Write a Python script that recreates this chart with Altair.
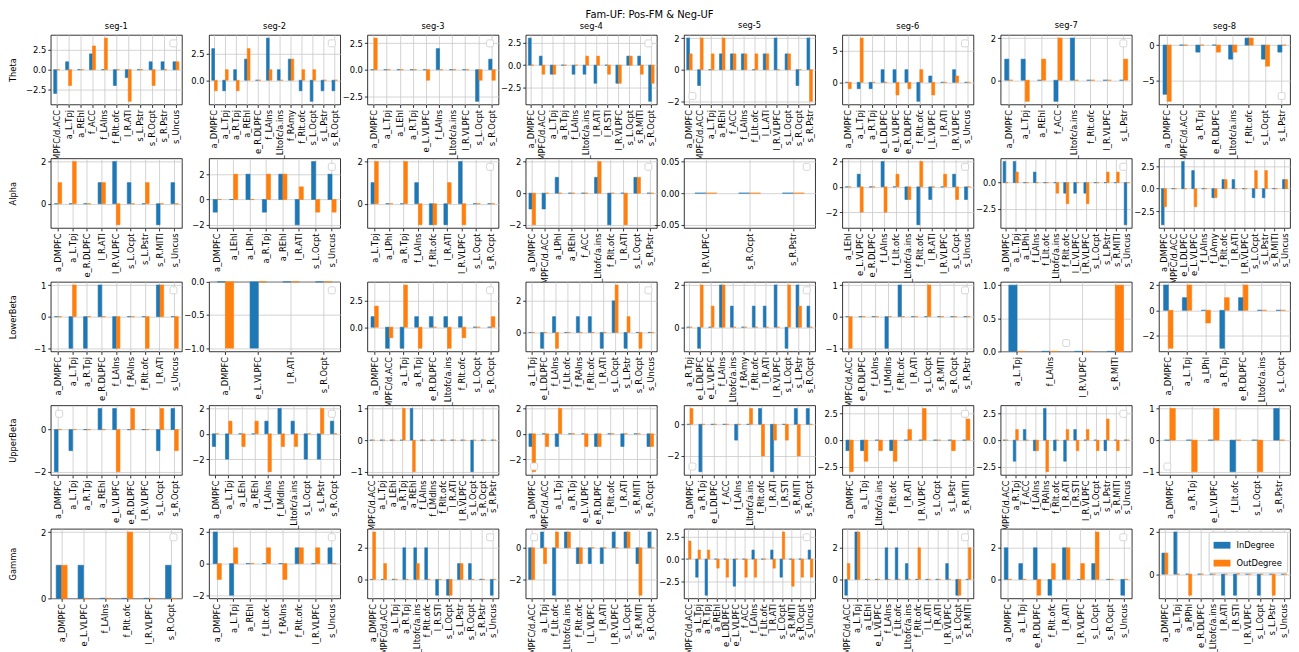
import altair as alt
import pandas as pd

# ---------------- data ----------------
series_names = ["InDegree", "OutDegree"]
bands = ["Theta", "Alpha", "LowerBeta", "UpperBeta", "Gamma"]

# Theta
t1_cats = ["e_DMPFC/d.ACC", "a_L.Tpj", "a_REhl", "f_ACC", "f_LAIns", "f_Rlt.ofc", "l_R.ATl", "s_L.Pstr", "s_R.Ocpt", "s_R.Pstr", "s_Uncus"]
t1_in = [-3, 1, 0, 2, 0, -2, -1, 0, 1, 1, 1]
t1_out = [0, -2, 0, 3, 4, 0, -4, 0, -2, 0, 1]
t2_cats = ["a_DMPFC", "a_L.Tpj", "a_R.Tpj", "a_REhl", "e_R.DLPFC", "f_LAIns", "f_Lltofc/a.ins", "f_RAmy", "f_Rlt.ofc", "s_L.Ocpt", "s_L.Pstr", "s_R.Ocpt"]
t2_in = [3, -1, 1, 2, 0, 4, 1, 2, -1, -2, -1, -1]
t2_out = [-1, 1, -1, 3, 0, 1, 0, 2, 1, 1, 0, 0]
t3_cats = ["a_DMPFC", "a_L.Tpj", "a_LEhl", "a_R.Tpj", "e_L.VLPFC", "f_LAIns", "f_Lltofc/a.ins", "l_R.VLPFC", "s_L.Ocpt", "s_R.Ocpt"]
t3_in = [0, 0, 0, 0, 0, 2, 0, 0, -3, 1]
t3_out = [3, 0, 0, 0, -1, 0, 0, 0, -1, -1]
t4_cats = ["a_DMPFC", "e_DMPFC/d.ACC", "a_L.Tpj", "a_R.Tpj", "f_LAIns", "f_Lltofc/a.ins", "l_R.ATl", "l_R.STl", "l_R.VLPFC", "s_L.Ocpt", "s_R.MITl", "s_R.Ocpt"]
t4_in = [3, 1, -1, 0, -1, -1, -2, 0, -2, 1, 1, -4]
t4_out = [0, -1, -1, 0, 0, 1, 1, -1, -2, 1, -1, -2]
t5_cats = ["a_DMPFC", "e_DMPFC/d.ACC", "a_L.Tpj", "a_REhl", "f_ACC", "f_LAIns", "f_Llt.ofc", "l_L.ATl", "l_R.VLPFC", "s_L.Ocpt", "s_R.Ocpt", "s_R.Pstr"]
t5_in = [2, -1, 0, 1, 1, 1, 0, 1, 2, 1, -1, 2]
t5_out = [1, 2, 1, 2, 1, 1, 1, 1, 0, 1, 0, -2]
t6_cats = ["a_DMPFC", "a_L.Tpj", "a_R.Tpj", "e_L.DLPFC", "e_L.VLPFC", "e_R.DLPFC", "f_Rlt.ofc", "l_L.VLPFC", "l_R.ATl", "l_R.VLPFC", "s_Uncus"]
t6_in = [0, -1, -1, 2, 2, 2, -3, 1, 0, 2, 0]
t6_out = [-1, 7, 0, 0, -2, -1, 2, -2, 0, 1, 0]
t7_cats = ["a_DMPFC", "a_L.Tpj", "a_REhl", "f_ACC", "f_Lltofc/a.ins", "f_Rlt.ofc", "l_R.VLPFC", "s_L.Pstr"]
t7_in = [1, 1, 0, -1, 2, 0, 0, 0]
t7_out = [0, -1, 1, 2, 0, 0, 0, 1]
t8_cats = ["a_DMPFC", "e_DMPFC/d.ACC", "a_R.Tpj", "e_R.DLPFC", "f_Lltofc/a.ins", "f_Rlt.ofc", "s_L.Ocpt", "s_L.Pstr"]
t8_in = [-7, 0, -1, 0, -2, 1, -2, -1]
t8_out = [-8, 0, 0, -1, -1, 1, -3, 0]

# Alpha
a1_cats = ["a_DMPFC", "a_L.Tpj", "e_R.DLPFC", "l_R.ATl", "l_R.VLPFC", "s_L.Ocpt", "s_L.Pstr", "s_R.MITl", "s_Uncus"]
a1_in = [0, 0, 0, 1, 2, 1, 0, -1, 1]
a1_out = [1, 2, 0, 1, -1, 0, 1, 0, 0]
a2_cats = ["a_DMPFC", "a_LEhl", "a_LPhl", "a_R.Tpj", "a_REhl", "l_R.ATl", "s_L.Ocpt", "s_Uncus"]
a2_in = [-1, 0, 2, -1, 2, -2, 3, 2]
a2_out = [0, 2, 0, 2, 2, 1, -1, -1]
a3_cats = ["a_L.Tpj", "a_LPhl", "a_R.Tpj", "f_LAIns", "f_Rlt.ofc", "l_R.ATl", "l_R.VLPFC", "s_L.Ocpt", "s_R.Ocpt"]
a3_in = [1, 0, 0, 1, -1, -1, 2, 0, 0]
a3_out = [2, 0, 2, -1, -1, 1, -1, 0, 0]
a4_cats = ["a_DMPFC", "e_DMPFC/d.ACC", "a_LPhl", "a_REhl", "f_ACC", "f_Lltofc/a.ins", "f_Rlt.ofc", "l_R.ATl", "s_L.Ocpt", "s_R.Pstr"]
a4_in = [-1, -1, 1, 0, 0, 1, -2, 0, 1, 0]
a4_out = [-2, 0, 0, 0, 0, 2, 0, -2, 1, 0]
a5_cats = ["l_R.VLPFC", "s_R.Ocpt", "s_R.Pstr"]
a5_in = [0, 0, 0]
a5_out = [0, 0, 0]
a6_cats = ["a_LEhl", "e_L.VLPFC", "e_R.DLPFC", "f_LAIns", "f_Llt.ofc", "f_Lltofc/a.ins", "f_Rlt.ofc", "l_R.ATl", "l_R.VLPFC", "s_L.Ocpt", "s_Uncus"]
a6_in = [0, 1, 0, 2, 0, -1, -3, -1, 0, 1, -1]
a6_out = [0, -2, 0, -2, 1, -1, 2, 0, 1, -1, 0]
a7_cats = ["a_DMPFC", "a_L.Tpj", "a_LPhl", "f_LAIns", "f_Llt.ofc", "f_Lltofc/a.ins", "f_Rlt.ofc", "l_L.VLPFC", "l_R.VLPFC", "s_L.Ocpt", "s_L.Pstr", "s_R.MITl", "s_Uncus"]
a7_in = [2, 2, 0, 1, 0, 0, -1, -1, -1, 0, 0, 0, -4]
a7_out = [0, 1, 0, 0, 0, -1, -2, 0, -2, 0, 1, 1, 0]
a8_cats = ["a_DMPFC", "e_DMPFC/d.ACC", "e_L.DLPFC", "e_L.VLPFC", "f_LAIns", "f_LAmy", "f_Rlt.ofc", "l_R.ATl", "l_R.VLPFC", "s_L.Ocpt", "s_L.Pstr", "s_R.MITl", "s_Uncus"]
a8_in = [-4, 0, 3, 2, 0, -1, 1, 1, 0, -1, -1, 0, 1]
a8_out = [-2, 0, 0, -2, 0, -1, 1, 0, 0, 2, 2, 0, 1]

# LowerBeta
l1_cats = ["a_DMPFC", "a_L.Tpj", "a_R.Tpj", "e_R.DLPFC", "f_LAIns", "f_RAIns", "f_Rlt.ofc", "l_R.ATl", "s_Uncus"]
l1_in = [0, -1, -1, 1, -1, 0, 0, 1, 0]
l1_out = [0, 1, 0, 0, -1, 0, -1, 1, -1]
l2_cats = ["a_DMPFC", "e_L.VLPFC", "l_R.ATl", "s_R.Ocpt"]
l2_in = [0, -1, 0, 0]
l2_out = [-1, 0, 0, 0]
l3_cats = ["a_DMPFC", "e_DMPFC/d.ACC", "a_L.Tpj", "a_R.Tpj", "e_R.DLPFC", "f_Lltofc/a.ins", "f_Rlt.ofc", "s_L.Ocpt", "s_R.Ocpt"]
l3_in = [1, -2, -2, 1, 1, 1, 1, 0, 0]
l3_out = [2, -1, 4, -2, 0, -2, -1, 0, 1]
l4_cats = ["a_L.Tpj", "e_L.DLPFC", "f_LAIns", "f_Llt.ofc", "f_RAIns", "f_Rlt.ofc", "l_R.ATl", "s_L.Ocpt", "s_L.Pstr", "s_R.Ocpt", "s_Uncus"]
l4_in = [0, -1, 1, 0, 1, 1, -1, 2, -1, 0, 0]
l4_out = [0, 0, -1, 0, 0, 0, 0, 3, 1, -1, 0]
l5_cats = ["a_R.Tpj", "e_L.DLPFC", "e_L.VLPFC", "f_LAIns", "f_Lltofc/a.ins", "f_RAmy", "f_Rlt.ofc", "l_R.ATl", "l_R.VLPFC", "s_L.Ocpt", "s_L.Pstr", "s_R.Ocpt"]
l5_in = [0, -1, 0, 2, 1, 0, 1, 1, 2, -1, 2, 1]
l5_out = [0, 2, 1, 2, 0, 0, 0, 0, 0, 2, 1, 0]
l6_cats = ["e_DMPFC/d.ACC", "e_R.DLPFC", "f_LAIns", "f_LMdIns", "f_Rlt.ofc", "l_R.ATl", "s_L.Ocpt", "s_R.MITl", "s_R.Ocpt", "s_R.Pstr"]
l6_in = [0, 0, 0, -1, 1, 0, 0, 0, 0, 0]
l6_out = [-1, 0, 0, 0, 0, 0, 1, 0, 0, 0]
l7_cats = ["a_L.Tpj", "f_LAIns", "l_R.VLPFC", "s_R.MITl"]
l7_in = [1, 0, 0, 0]
l7_out = [0, 0, 0, 1]
l8_cats = ["a_DMPFC", "a_L.Tpj", "a_LPhl", "a_R.Tpj", "e_R.DLPFC", "f_Lltofc/a.ins", "s_L.Ocpt"]
l8_in = [2, 1, 0, -3, 1, 0, 0]
l8_out = [-3, 2, -1, 1, 2, 0, 0]

# UpperBeta
u1_cats = ["a_DMPFC", "a_L.Tpj", "a_R.Tpj", "a_REhl", "e_L.VLPFC", "e_R.DLPFC", "l_R.VLPFC", "s_L.Ocpt", "s_R.Ocpt"]
u1_in = [-2, -1, 0, 1, 1, 0, 0, -1, 1]
u1_out = [0, 0, 0, 0, -2, 1, 0, 1, -1]
u2_cats = ["a_DMPFC", "a_L.Tpj", "a_LEhl", "a_REhl", "f_LAIns", "f_LMdIns", "f_Lltofc/a.ins", "s_L.Ocpt", "s_L.Pstr", "s_R.Ocpt"]
u2_in = [-1, -2, 0, 0, 1, 2, 1, -2, -2, 1]
u2_out = [0, 1, -1, 1, -3, -1, -1, 0, 2, 0]
u3_cats = ["e_DMPFC/d.ACC", "a_L.Tpj", "a_LEhl", "a_R.Tpj", "a_REhl", "f_LAIns", "f_LMdIns", "f_Rlt.ofc", "l_R.ATl", "l_R.VLPFC", "s_L.Ocpt", "s_R.Ocpt", "s_R.Pstr"]
u3_in = [0, 0, 0, 0, 1, 0, 0, 0, 0, 0, -1, 0, 0]
u3_out = [0, 0, 0, 1, -1, 0, 0, 0, 0, 0, 0, 0, 0]
u4_cats = ["a_DMPFC", "e_DMPFC/d.ACC", "a_L.Tpj", "a_R.Tpj", "e_L.VLPFC", "e_R.DLPFC", "f_Rlt.ofc", "l_R.ATl", "s_R.MITl", "s_R.Ocpt"]
u4_in = [-1, 0, -1, 0, 0, -1, 0, -1, 0, -1]
u4_out = [-3, -1, 2, 0, -1, -1, 0, 0, 0, -1]
u5_cats = ["a_DMPFC", "a_R.Tpj", "e_L.DLPFC", "f_ACC", "f_LAIns", "f_Lltofc/a.ins", "f_Rlt.ofc", "l_R.ATl", "l_R.STl", "s_R.MITl", "s_R.Ocpt"]
u5_in = [0, -3, 0, 0, -1, 0, 1, -3, 0, 1, 1]
u5_out = [1, 0, 0, 0, 0, 1, -2, -1, -1, -2, 0]
u6_cats = ["a_DMPFC", "a_L.Tpj", "f_Lltofc/a.ins", "f_Rlt.ofc", "l_R.ATl", "l_R.VLPFC", "s_L.Ocpt", "s_L.Pstr", "s_R.MITl"]
u6_in = [-1, -1, 0, -1, 0, 0, 0, 0, 0]
u6_out = [-3, -2, -1, -2, 1, 3, 0, -1, 2]
u7_cats = ["e_DMPFC/d.ACC", "a_R.Tpj", "f_ACC", "f_LAIns", "f_RAIns", "f_Rlt.ofc", "l_R.ATl", "l_R.STl", "l_R.VLPFC", "s_L.Ocpt", "s_L.Pstr", "s_R.MITl", "s_Uncus"]
u7_in = [0, -2, 1, -1, 3, -1, -2, 1, 0, 0, -1, 0, 0]
u7_out = [0, 1, 0, -1, -3, 0, 1, -1, 1, -1, 2, -1, 0]
u8_cats = ["a_DMPFC", "a_R.Tpj", "e_L.VLPFC", "f_Llt.ofc", "s_L.Ocpt", "s_R.Pstr"]
u8_in = [0, 0, 0, -1, 0, 1]
u8_out = [1, -1, 1, 0, -1, 0]

# Gamma
g1_cats = ["a_DMPFC", "e_L.VLPFC", "f_LAIns", "f_Rlt.ofc", "l_R.VLPFC", "s_R.Ocpt"]
g1_in = [1, 1, 0, 0, 0, 1]
g1_out = [1, 0, 0, 2, 0, 0]
g2_cats = ["a_DMPFC", "a_L.Tpj", "a_REhl", "f_Llt.ofc", "f_RAIns", "f_Rlt.ofc", "l_R.VLPFC", "s_Uncus"]
g2_in = [2, -2, 0, 0, 0, 1, 0, 1]
g2_out = [-1, 1, 0, 1, -1, 1, 1, 0]
g3_cats = ["a_DMPFC", "e_DMPFC/d.ACC", "a_L.Tpj", "a_R.Tpj", "f_Lltofc/a.ins", "f_Rlt.ofc", "l_R.STl", "s_L.Ocpt", "s_L.Pstr", "s_R.Ocpt", "s_R.Pstr", "s_Uncus"]
g3_in = [0, 0, 0, 2, 2, 2, -1, -1, 1, 1, 0, -1]
g3_out = [3, 1, 0, 0, 1, 0, 0, -1, 1, 0, 0, 0]
g4_cats = ["e_DMPFC/d.ACC", "a_L.Tpj", "f_Llt.ofc", "f_Lltofc/a.ins", "f_Rlt.ofc", "l_L.VLPFC", "l_R.ATl", "l_R.VLPFC", "s_L.Ocpt", "s_R.MITl", "s_R.Ocpt"]
g4_in = [-2, 1, -3, 1, -1, -1, -1, 1, 1, -1, 1]
g4_out = [-2, -1, 1, 1, -1, 0, 0, 0, 1, -3, 0]
g5_cats = ["e_DMPFC/d.ACC", "a_L.Tpj", "a_R.Tpj", "a_REhl", "e_L.DLPFC", "e_L.VLPFC", "f_ACC", "f_LAIns", "f_Llt.ofc", "l_R.ATl", "s_L.Ocpt", "s_R.MITl", "s_R.Ocpt", "s_Uncus"]
g5_in = [0, -2, -4, 0, 0, -3, 0, 1, 0, 1, -2, 0, 0, 1]
g5_out = [2, 1, 1, -1, -2, 0, -2, -2, 0, -1, 3, -3, -2, -2]
g6_cats = ["e_DMPFC/d.ACC", "a_L.Tpj", "a_LEhl", "e_L.VLPFC", "f_LAIns", "f_Llt.ofc", "f_Lltofc/a.ins", "f_Rlt.ofc", "l_L.ATl", "l_R.ATl", "l_R.VLPFC", "s_L.Ocpt", "s_R.MITl"]
g6_in = [-1, 3, 0, 0, 2, 2, 1, 0, 0, 0, 1, -1, 0]
g6_out = [1, 3, 0, 0, 0, 0, 0, 2, 0, 0, 0, -1, 2]
g7_cats = ["a_DMPFC", "a_L.Tpj", "e_R.DLPFC", "f_Rlt.ofc", "l_R.ATl", "l_R.VLPFC", "s_L.Ocpt", "s_R.Ocpt", "s_Uncus"]
g7_in = [2, 1, 2, -1, 2, 0, 1, 0, -1]
g7_out = [0, 0, -1, 1, 2, 1, 3, 0, 0]
g8_cats = ["a_DMPFC", "a_L.Tpj", "a_RPhl", "e_R.DLPFC", "f_Lltofc/a.ins", "l_R.ATl", "l_R.STl", "l_R.VLPFC", "s_L.Ocpt", "s_L.Pstr", "s_Uncus"]
g8_in = [1, 2, 0, 0, 0, -1, -1, 0, -1, 0, 0]
g8_out = [1, 0, -1, 0, 0, 0, 1, 0, 0, -1, 0]

# y tick labels per panel (as shown)
theta_ticks = [[-2.5, 0, 2.5], [0, 2.5], [-2.5, 0, 2.5], [-2.5, 0, 2.5], [-2, 0, 2], [0, 5], [0, 2], [-5, 0]]
alpha_ticks = [[0, 2], [-2, 0, 2], [0, 2], [-2, 0, 2], [-0.05, 0, 0.05], [-2, 0, 2], [-2.5, 0], [-2.5, 0, 2.5]]
lowerbeta_ticks = [[-1, 0, 1], [-1, -0.5, 0], [0, 2.5], [0, 2], [0, 2], [-1, 0, 1], [0, 0.5, 1], [-2, 0, 2]]
upperbeta_ticks = [[-2, 0], [-2, 0, 2], [-1, 0, 1], [-2, 0, 2], [-2, 0], [-2.5, 0, 2.5], [-2.5, 0, 2.5], [-1, 0, 1]]
gamma_ticks = [[0, 1, 2], [-2, 0, 2], [0, 2], [-2, 0], [-2.5, 0, 2.5], [0, 2], [0, 2], [0, 2]]

# where each panel's (empty) legend box sits
theta_leg = ["ur", "ur", "ur", "ur", "ll", "ur", "ur", "lr"]
alpha_leg = ["", "ur", "ur", "ur", "ur", "ur", "ur", ""]
lowerbeta_leg = ["ur", "ur", "ur", "ur", "ur", "ur", "lc", ""]
upperbeta_leg = ["ul", "ur", "", "ll", "ll", "ur", "ur", "ll"]
gamma_leg = ["ur", "ur", "ur", "ul", "ur", "ur", "ur", "legend"]

# ---------------- assemble ----------------
g = globals()
prefix = {"Theta": "t", "Alpha": "a", "LowerBeta": "l", "UpperBeta": "u", "Gamma": "g"}
ticks_of = {"Theta": theta_ticks, "Alpha": alpha_ticks, "LowerBeta": lowerbeta_ticks,
            "UpperBeta": upperbeta_ticks, "Gamma": gamma_ticks}
legs_of = {"Theta": theta_leg, "Alpha": alpha_leg, "LowerBeta": lowerbeta_leg,
           "UpperBeta": upperbeta_leg, "Gamma": gamma_leg}

W, H = 132, 70
BLUE, ORANGE = "#1f77b4", "#ff7f0e"
FS = 8.4


def ydomain(vals):
    lo, hi = min(0, min(vals)), max(0, max(vals))
    if lo == 0 and hi == 0:
        return [-0.055, 0.055]
    r = hi - lo
    return [lo - 0.05 * r if lo < 0 else 0, hi + 0.05 * r if hi > 0 else 0]


def tick_format(ticks):
    dec = 0
    for t in ticks:
        s = f"{t:g}"
        if "." in s:
            dec = max(dec, len(s.split(".")[1]))
    return f".{dec}f" if dec else "d"


def legend_box(loc):
    s, m = 7, 5
    pos = {"ur": (W - m - s, m), "ul": (m, m), "ll": (m, H - m - s),
           "lr": (W - m - s, H - m - s), "lc": (W / 2 - s / 2, H - m - s)}
    x0, y0 = pos[loc]
    return alt.Chart(pd.DataFrame({"k": [0]})).mark_rect(
        fill="white", stroke="#cccccc", strokeWidth=0.8, cornerRadius=1.5
    ).encode(x=alt.value(x0), x2=alt.value(x0 + s), y=alt.value(y0), y2=alt.value(y0 + s))


cscale = alt.Scale(domain=series_names, range=[BLUE, ORANGE])
charts = []
for band in bands:
    p = prefix[band]
    for i in range(8):
        cats = g[f"{p}{i+1}_cats"]
        vin = g[f"{p}{i+1}_in"]
        vout = g[f"{p}{i+1}_out"]
        n = len(cats)
        df = pd.DataFrame({
            "cat": cats + cats,
            "series": [series_names[0]] * n + [series_names[1]] * n,
            "value": vin + vout,
        })
        ticks = ticks_of[band][i]
        loc = legs_of[band][i]
        if loc == "legend":
            leg = alt.Legend(title=None, orient="top-right", offset=3,
                             symbolType="M-1,-0.4H1V0.4H-1Z", symbolSize=289,
                             symbolStrokeWidth=0, labelFontSize=FS, labelColor="black",
                             fillColor="white", strokeColor="#cccccc", padding=5,
                             cornerRadius=2, rowPadding=5, labelOffset=6)
        else:
            leg = None
        yaxis_kw = dict(values=ticks, format=tick_format(ticks), tickSize=3,
                        labelPadding=2, labelFontSize=FS, grid=True)
        if i == 0:
            yaxis_kw.update(title=band, titleX=-38, titleY=H / 2, titleAngle=270,
                            titleAlign="center", titleBaseline="middle",
                            titleFontSize=FS, titleFontWeight="normal")
        else:
            yaxis_kw.update(title=None)
        bars = alt.Chart(df).mark_bar(strokeWidth=0.6).encode(
            x=alt.X("cat:N", sort=cats,
                    scale=alt.Scale(paddingInner=0, paddingOuter=0),
                    axis=alt.Axis(title=None, labelAngle=270, labelAlign="right",
                                  labelBaseline="middle", labelPadding=2, tickSize=3,
                                  grid=True, labelFontSize=FS)),
            xOffset=alt.XOffset("series:N", sort=series_names,
                                scale=alt.Scale(paddingInner=0, paddingOuter=1)),
            y=alt.Y("value:Q", scale=alt.Scale(domain=ydomain(vin + vout), nice=False, zero=False),
                    axis=alt.Axis(**yaxis_kw)),
            y2=alt.datum(0),
            color=alt.Color("series:N", scale=cscale, legend=leg),
            stroke=alt.Stroke("series:N", scale=cscale, legend=None),
        )
        layers = [bars]
        if loc and loc != "legend":
            layers.append(legend_box(loc))
        ch = alt.layer(*layers).properties(width=W, height=H)
        if band == "Theta":
            ch = ch.properties(title=alt.TitleParams(f"seg-{i+1}", fontSize=FS,
                                                     fontWeight="normal", offset=5))
        charts.append(ch)

chart = alt.concat(
    *charts, columns=8, spacing={"row": 54.25, "column": 27.3}, bounds="flush",
    title=alt.TitleParams("Fam-UF: Pos-FM & Neg-UF", fontSize=10, fontWeight="normal",
                          anchor="middle", offset=0),
).resolve_scale(
    x="independent", y="independent", xOffset="independent",
    color="independent", stroke="independent",
).properties(
    padding={"left": 0, "top": 0, "right": 0, "bottom": 0}
).configure(
    font="DejaVu Sans"
).configure_view(
    stroke="black", strokeWidth=0.8, fill="white"
).configure_axis(
    domain=False, gridColor="#c9c9c9", gridWidth=0.8, tickColor="black",
    tickWidth=0.8, labelColor="black", titleColor="black"
).configure_title(color="black")

chart.save("out.html", embed_options={"renderer": "svg", "actions": False})
